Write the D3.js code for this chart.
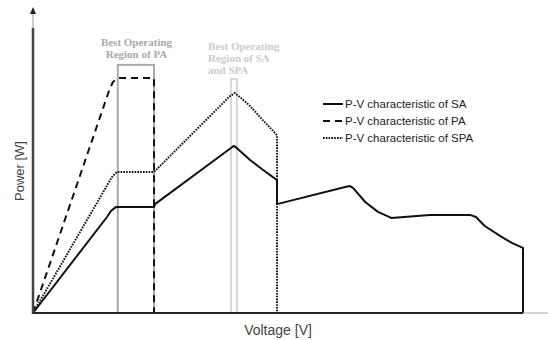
<!DOCTYPE html>
<html>
<head>
<meta charset="utf-8">
<script src="https://cdn.jsdelivr.net/npm/d3@7"></script>
<style>
    body { margin: 0; background: #fff; }
    svg { display: block; }
</style>
</head>
<body>
<div id="chart"></div>
<script>
// P-V curves, voltage and power in arbitrary units (0-100)
const saCurve = [
    [0, 0], [15.1, 32], [15.9, 34], [16.9, 35.3], [24.7, 35.3], [24.9, 36.3],
    [40.4, 55], [41, 55.7], [41.8, 54.7], [44.3, 51], [46.7, 48], [49.8, 44.3],
    [49.8, 36.3], [63.7, 42], [64.7, 42.3], [65.3, 41.7], [67.8, 37], [70.4, 33.7],
    [73.1, 31.7], [81, 32.7], [89.2, 32.7], [90.4, 32], [92.2, 29], [95.3, 25.7],
    [97.8, 23.3], [100, 21.7], [100, 0]
];
const paCurve = [
    [0, 0], [15.5, 74], [16.3, 77], [17.3, 78.3], [24.7, 78.3], [24.7, 0]
];
const spaCurve = [
    [0, 0], [16.1, 45.3], [17.1, 47], [24.7, 47], [40.2, 72.3], [41.2, 73.3],
    [42.2, 72], [44.3, 69], [46.9, 64.3], [49.8, 59.3], [49.8, 0]
];

// best operating regions: [v0, v1, top power]
const regions = [
    { v0: 17.3, v1: 24.7, top: 82.7, color: '#a9a9a9', width: 2 },
    { v0: 40.4, v1: 41.6, top: 78, color: '#cfcfcf', width: 1.6 }
];
const regionLabels = [
    { lines: ['Best Operating', 'Region of PA'], x: 136.5, y: 46, anchor: 'middle', color: '#a9a9a9' },
    { lines: ['Best Operating', 'Region of SA', 'and SPA'], x: 208, y: 50, anchor: 'start', color: '#cccccc' }
];
const legendNames = ['P-V characteristic of SA', 'P-V characteristic of PA', 'P-V characteristic of SPA'];

const width = 548, height = 340;
const svg = d3.select('#chart').append('svg')
    .attr('width', width)
    .attr('height', height);

const x = d3.scaleLinear().domain([0, 100]).range([33, 523]);
const y = d3.scaleLinear().domain([0, 100]).range([313, 13]);

const line = d3.line()
    .x(d => x(d[0]))
    .y(d => y(d[1]));

// operating region boxes
svg.selectAll('.region')
    .data(regions)
    .join('rect')
    .attr('class', 'region')
    .attr('x', d => x(d.v0))
    .attr('y', d => y(d.top))
    .attr('width', d => x(d.v1) - x(d.v0))
    .attr('height', d => y(0) - y(d.top))
    .attr('fill', 'none')
    .attr('stroke', d => d.color)
    .attr('stroke-width', d => d.width);

// region labels
regionLabels.forEach(lbl => {
    svg.append('text')
        .attr('x', lbl.x)
        .attr('y', lbl.y)
        .attr('text-anchor', lbl.anchor)
        .attr('font-family', '"Liberation Serif", "Times New Roman", serif')
        .attr('font-size', '11px')
        .attr('font-weight', 'bold')
        .attr('fill', lbl.color)
        .selectAll('tspan')
        .data(lbl.lines)
        .join('tspan')
        .attr('x', lbl.x)
        .attr('dy', (d, i) => i === 0 ? 0 : 12)
        .text(d => d);
});

// curves
const series = [
    { data: saCurve, dash: null },
    { data: paCurve, dash: '7,5' },
    { data: spaCurve, dash: '1.6,1.2' }
];
svg.selectAll('.curve')
    .data(series)
    .join('path')
    .attr('class', 'curve')
    .attr('d', d => line(d.data))
    .attr('fill', 'none')
    .attr('stroke', '#111')
    .attr('stroke-width', 2)
    .attr('stroke-linejoin', 'round')
    .attr('stroke-dasharray', d => d.dash);

// axes (plain arrows, no ticks)
svg.append('line')
    .attr('x1', x(0)).attr('x2', x(0))
    .attr('y1', y(0) + 1).attr('y2', 28)
    .attr('stroke', '#444').attr('stroke-width', 2.5);
svg.append('line')
    .attr('x1', x(0)).attr('x2', x(0))
    .attr('y1', 28).attr('y2', 12)
    .attr('stroke', '#999').attr('stroke-width', 1);
svg.append('path')
    .attr('d', `M${x(0) - 3},14 L${x(0)},7 L${x(0) + 3},14 Z`)
    .attr('fill', '#222');
svg.append('line')
    .attr('x1', x(0)).attr('x2', x(100))
    .attr('y1', y(0)).attr('y2', y(0))
    .attr('stroke', '#222').attr('stroke-width', 2);
svg.append('line')
    .attr('x1', x(100)).attr('x2', width)
    .attr('y1', y(0)).attr('y2', y(0))
    .attr('stroke', '#aaa').attr('stroke-width', 1);

// axis titles
svg.append('text')
    .attr('transform', `translate(24,${171}) rotate(-90)`)
    .attr('text-anchor', 'middle')
    .attr('font-family', 'Arial, "Liberation Sans", sans-serif')
    .attr('font-size', '13px')
    .attr('fill', '#444')
    .text('Power [W]');
svg.append('text')
    .attr('x', 278)
    .attr('y', 335)
    .attr('text-anchor', 'middle')
    .attr('font-family', 'Arial, "Liberation Sans", sans-serif')
    .attr('font-size', '14px')
    .attr('fill', '#444')
    .text('Voltage [V]');

// legend
const legend = svg.append('g')
    .attr('transform', 'translate(323,104)');
const legendItems = legend.selectAll('.legend-item')
    .data(legendNames)
    .join('g')
    .attr('class', 'legend-item')
    .attr('transform', (d, i) => `translate(0,${i * 17})`);
legendItems.append('line')
    .attr('x1', 0).attr('x2', 20)
    .attr('stroke', '#111')
    .attr('stroke-width', 2)
    .attr('stroke-dasharray', (d, i) => series[i].dash);
legendItems.append('text')
    .attr('x', 22)
    .attr('dy', '0.35em')
    .attr('font-family', 'Arial, "Liberation Sans", sans-serif')
    .attr('font-size', '11.5px')
    .attr('fill', '#222')
    .text(d => d);
</script>
</body>
</html>
